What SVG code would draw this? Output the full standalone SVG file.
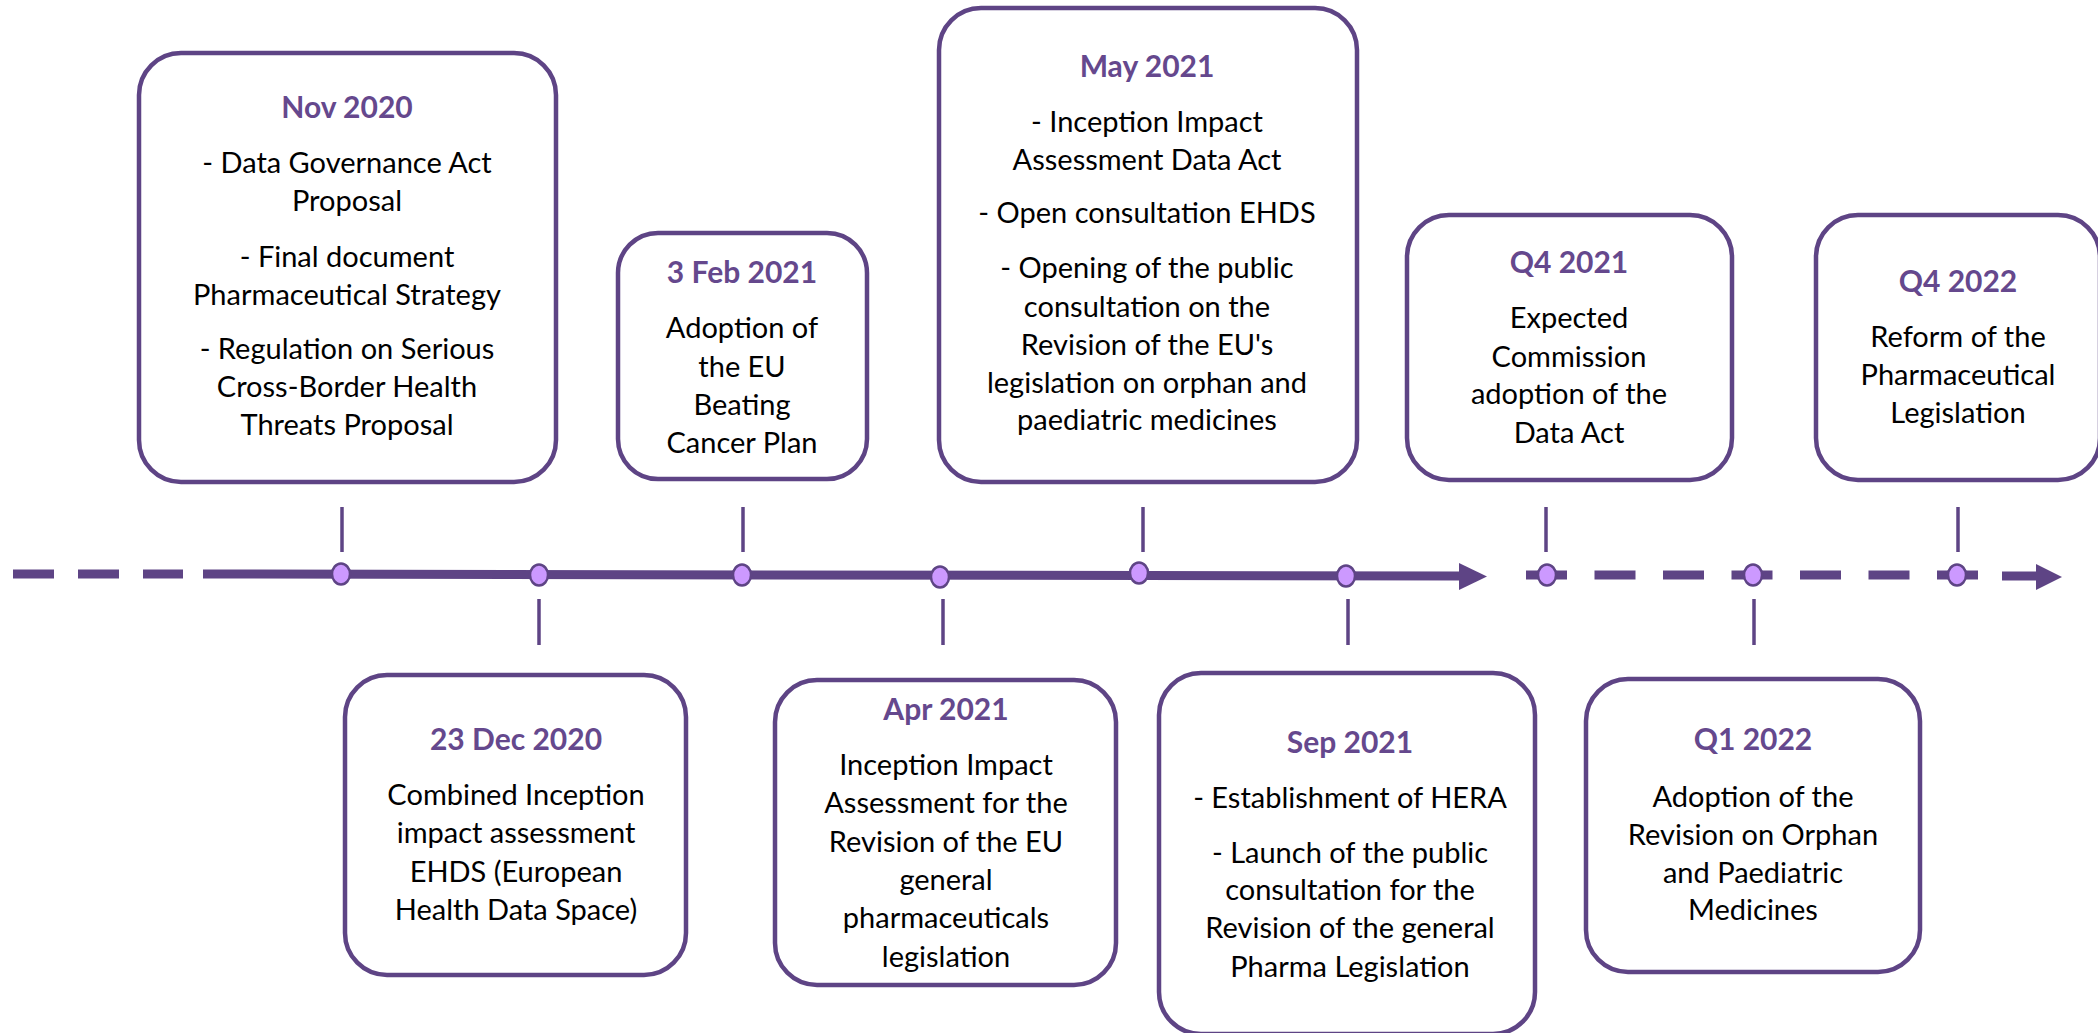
<svg xmlns="http://www.w3.org/2000/svg" width="2098" height="1033" viewBox="0 0 2098 1033">
<style>
.box{fill:#fff;stroke:#5E4485;stroke-width:4.5}
.t{font-family:Lato,"Open Sans",sans-serif;font-size:29px;fill:#000;text-anchor:middle}
.h{font-family:Lato,"Open Sans",sans-serif;font-size:30px;font-weight:bold;fill:#65488D;text-anchor:middle}
.tick{stroke:#5E4485;stroke-width:3.5}
.dot{fill:#CC99FF;stroke:#5E4485;stroke-width:2.5}
.ln{stroke:#5E4485;stroke-width:9;fill:none}
.head{fill:#5E4485}
</style>
<rect width="2098" height="1033" fill="#fff"/>
<g id="connectors">
<path class="ln" d="M13 574 H183" stroke-dasharray="41 24"/>
<path class="ln" d="M203 574 L1462 576"/>
<polygon class="head" points="1459,563 1487,576.5 1459,590"/>
<path class="ln" d="M1526 575 H1978" stroke-dasharray="41 27.5"/>
<path class="ln" d="M2002 576 H2040"/>
<polygon class="head" points="2036,564 2062,577 2036,590"/>
<line class="tick" x1="342" y1="507" x2="342" y2="552"/>
<line class="tick" x1="743" y1="507" x2="743" y2="552"/>
<line class="tick" x1="1143" y1="507" x2="1143" y2="552"/>
<line class="tick" x1="1546" y1="507" x2="1546" y2="552"/>
<line class="tick" x1="1958" y1="507" x2="1958" y2="552"/>
<line class="tick" x1="539" y1="599" x2="539" y2="645"/>
<line class="tick" x1="943" y1="599" x2="943" y2="645"/>
<line class="tick" x1="1348" y1="599" x2="1348" y2="645"/>
<line class="tick" x1="1754" y1="599" x2="1754" y2="645"/>
<ellipse class="dot" cx="341" cy="574" rx="9" ry="10.5"/>
<ellipse class="dot" cx="539" cy="575" rx="9" ry="10.5"/>
<ellipse class="dot" cx="742" cy="575" rx="9" ry="10.5"/>
<ellipse class="dot" cx="940" cy="577" rx="9" ry="10.5"/>
<ellipse class="dot" cx="1139" cy="573" rx="9" ry="10.5"/>
<ellipse class="dot" cx="1346" cy="576" rx="9" ry="10.5"/>
<ellipse class="dot" cx="1547" cy="575" rx="9" ry="10.5"/>
<ellipse class="dot" cx="1753" cy="575" rx="9" ry="10.5"/>
<ellipse class="dot" cx="1957" cy="575" rx="9" ry="10.5"/>
</g>
<g id="nov2020">
<rect class="box" x="139" y="53" width="417" height="429" rx="42"/>
<text class="h" x="347" y="118">Nov 2020</text>
<text class="t" x="347" y="173">- Data Governance Act</text>
<text class="t" x="347" y="211">Proposal</text>
<text class="t" x="347" y="267">- Final document</text>
<text class="t" x="347" y="305">Pharmaceutical Strategy</text>
<text class="t" x="347" y="359">- Regulation on Serious</text>
<text class="t" x="347" y="397">Cross-Border Health</text>
<text class="t" x="347" y="435">Threats Proposal</text>
</g>
<g id="feb2021">
<rect class="box" x="618" y="233" width="249" height="246" rx="40"/>
<text class="h" x="742" y="283">3 Feb 2021</text>
<text class="t" x="742" y="338">Adoption of</text>
<text class="t" x="742" y="377">the EU</text>
<text class="t" x="742" y="415">Beating</text>
<text class="t" x="742" y="453">Cancer Plan</text>
</g>
<g id="may2021">
<rect class="box" x="939" y="8" width="418" height="474" rx="42"/>
<text class="h" x="1147" y="77">May 2021</text>
<text class="t" x="1147" y="132">- Inception Impact</text>
<text class="t" x="1147" y="170">Assessment Data Act</text>
<text class="t" x="1147" y="223">- Open consultation EHDS</text>
<text class="t" x="1147" y="278">- Opening of the public</text>
<text class="t" x="1147" y="317">consultation on the</text>
<text class="t" x="1147" y="355">Revision of the EU's</text>
<text class="t" x="1147" y="393">legislation on orphan and</text>
<text class="t" x="1147" y="430">paediatric medicines</text>
</g>
<g id="q42021">
<rect class="box" x="1407" y="215" width="325" height="265" rx="42"/>
<text class="h" x="1569" y="273">Q4 2021</text>
<text class="t" x="1569" y="328">Expected</text>
<text class="t" x="1569" y="367">Commission</text>
<text class="t" x="1569" y="404">adoption of the</text>
<text class="t" x="1569" y="443">Data Act</text>
</g>
<g id="q42022">
<rect class="box" x="1816" y="215" width="284" height="265" rx="42"/>
<text class="h" x="1958" y="292">Q4 2022</text>
<text class="t" x="1958" y="347">Reform of the</text>
<text class="t" x="1958" y="385">Pharmaceutical</text>
<text class="t" x="1958" y="423">Legislation</text>
</g>
<g id="dec2020">
<rect class="box" x="345" y="675" width="341" height="300" rx="42"/>
<text class="h" x="516" y="750">23 Dec 2020</text>
<text class="t" x="516" y="805">Combined Inception</text>
<text class="t" x="516" y="843">impact assessment</text>
<text class="t" x="516" y="882">EHDS (European</text>
<text class="t" x="516" y="920">Health Data Space)</text>
</g>
<g id="apr2021">
<rect class="box" x="775" y="680" width="341" height="305" rx="42"/>
<text class="h" x="946" y="720">Apr 2021</text>
<text class="t" x="946" y="775">Inception Impact</text>
<text class="t" x="946" y="813">Assessment for the</text>
<text class="t" x="946" y="852">Revision of the EU</text>
<text class="t" x="946" y="890">general</text>
<text class="t" x="946" y="928">pharmaceuticals</text>
<text class="t" x="946" y="967">legislation</text>
</g>
<g id="sep2021">
<rect class="box" x="1159" y="673" width="376" height="361" rx="42"/>
<text class="h" x="1350" y="753">Sep 2021</text>
<text class="t" x="1350" y="808">- Establishment of HERA</text>
<text class="t" x="1350" y="863">- Launch of the public</text>
<text class="t" x="1350" y="900">consultation for the</text>
<text class="t" x="1350" y="938">Revision of the general</text>
<text class="t" x="1350" y="977">Pharma Legislation</text>
</g>
<g id="q12022">
<rect class="box" x="1586" y="679" width="334" height="293" rx="42"/>
<text class="h" x="1753" y="750">Q1 2022</text>
<text class="t" x="1753" y="807">Adoption of the</text>
<text class="t" x="1753" y="845">Revision on Orphan</text>
<text class="t" x="1753" y="883">and Paediatric</text>
<text class="t" x="1753" y="920">Medicines</text>
</g>
</svg>
